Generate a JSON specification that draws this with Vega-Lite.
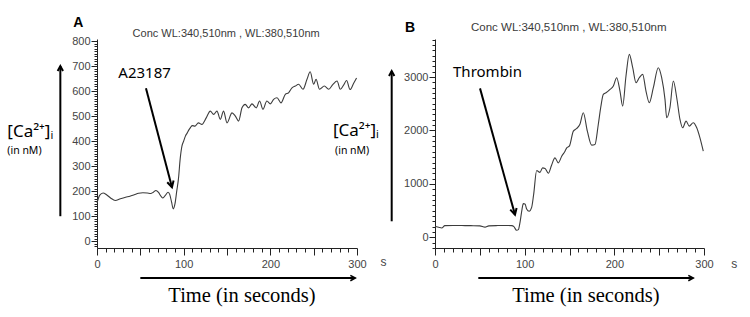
{
  "$schema": "https://vega.github.io/schema/vega-lite/v6.json",
  "padding": {"left": 7, "top": 15, "right": 5, "bottom": 5},
  "background": "white",
  "bounds": "flush",
  "spacing": 78,
  "config": {
    "view": {"stroke": null},
    "font": "Liberation Sans"
  },
  "datasets": {
    "trace_a": [
      {"t": 0, "ca": 153}, {"t": 3, "ca": 183}, {"t": 7, "ca": 193}, {"t": 11, "ca": 186}, {"t": 16, "ca": 172},
      {"t": 21, "ca": 163}, {"t": 27, "ca": 170}, {"t": 33, "ca": 176}, {"t": 38, "ca": 180}, {"t": 43, "ca": 186},
      {"t": 48, "ca": 192}, {"t": 53, "ca": 194}, {"t": 58, "ca": 193}, {"t": 62, "ca": 191}, {"t": 65, "ca": 196},
      {"t": 68, "ca": 203}, {"t": 71, "ca": 195}, {"t": 74, "ca": 179}, {"t": 76, "ca": 173}, {"t": 79, "ca": 184},
      {"t": 82, "ca": 196}, {"t": 84, "ca": 186}, {"t": 86, "ca": 157}, {"t": 88, "ca": 129}, {"t": 90, "ca": 150},
      {"t": 92, "ca": 200}, {"t": 94, "ca": 250}, {"t": 96, "ca": 330}, {"t": 98, "ca": 380}, {"t": 100, "ca": 400},
      {"t": 102, "ca": 420}, {"t": 104, "ca": 432}, {"t": 106, "ca": 445}, {"t": 108, "ca": 455}, {"t": 110, "ca": 462},
      {"t": 113, "ca": 460}, {"t": 117, "ca": 473}, {"t": 121, "ca": 467}, {"t": 126, "ca": 493}, {"t": 130.7, "ca": 520},
      {"t": 134.6, "ca": 507}, {"t": 138.4, "ca": 520}, {"t": 142.3, "ca": 487}, {"t": 146, "ca": 520}, {"t": 150, "ca": 473},
      {"t": 155.8, "ca": 513}, {"t": 159.6, "ca": 500}, {"t": 163.4, "ca": 480}, {"t": 167.3, "ca": 533}, {"t": 171, "ca": 547},
      {"t": 175, "ca": 533}, {"t": 178.8, "ca": 549}, {"t": 183.8, "ca": 533}, {"t": 187.6, "ca": 560}, {"t": 191.5, "ca": 527},
      {"t": 196, "ca": 560}, {"t": 200, "ca": 549}, {"t": 203.8, "ca": 567}, {"t": 207.7, "ca": 573}, {"t": 212.3, "ca": 553},
      {"t": 217.3, "ca": 587}, {"t": 221, "ca": 593}, {"t": 225, "ca": 613}, {"t": 228.8, "ca": 620}, {"t": 232.6, "ca": 627},
      {"t": 237.7, "ca": 607}, {"t": 242.3, "ca": 647}, {"t": 246, "ca": 677}, {"t": 250, "ca": 627}, {"t": 252.7, "ca": 647},
      {"t": 256.8, "ca": 607}, {"t": 262.3, "ca": 620}, {"t": 267.3, "ca": 607}, {"t": 272.3, "ca": 627}, {"t": 277, "ca": 640},
      {"t": 280.7, "ca": 607}, {"t": 284.5, "ca": 624}, {"t": 288, "ca": 642}, {"t": 292, "ca": 606}, {"t": 296, "ca": 630},
      {"t": 299.5, "ca": 652}
    ],
    "trace_b": [
      {"t": 0, "ca": 206}, {"t": 4, "ca": 190}, {"t": 7.5, "ca": 175}, {"t": 11, "ca": 219}, {"t": 20, "ca": 222},
      {"t": 30, "ca": 220}, {"t": 40, "ca": 218}, {"t": 50, "ca": 215}, {"t": 55.8, "ca": 190}, {"t": 60, "ca": 215},
      {"t": 70, "ca": 220}, {"t": 80, "ca": 222}, {"t": 85.5, "ca": 219}, {"t": 88, "ca": 200}, {"t": 91, "ca": 131},
      {"t": 93, "ca": 144}, {"t": 95, "ca": 300}, {"t": 97, "ca": 520}, {"t": 98.5, "ca": 630}, {"t": 100.4, "ca": 625},
      {"t": 102.2, "ca": 530}, {"t": 105, "ca": 487}, {"t": 107.8, "ca": 560}, {"t": 110, "ca": 800}, {"t": 113.4, "ca": 1250},
      {"t": 117, "ca": 1215}, {"t": 120, "ca": 1300}, {"t": 122.7, "ca": 1290}, {"t": 126.4, "ca": 1200}, {"t": 130, "ca": 1350},
      {"t": 133.8, "ca": 1487}, {"t": 137.5, "ca": 1394}, {"t": 141.3, "ca": 1519}, {"t": 145, "ca": 1612}, {"t": 146.9, "ca": 1675},
      {"t": 149.8, "ca": 1706}, {"t": 154.3, "ca": 1987}, {"t": 158, "ca": 2037}, {"t": 161.5, "ca": 2110}, {"t": 165.4, "ca": 2331},
      {"t": 169.9, "ca": 1987}, {"t": 174.7, "ca": 1725}, {"t": 178.4, "ca": 1737}, {"t": 182.1, "ca": 2112}, {"t": 185, "ca": 2450},
      {"t": 187.7, "ca": 2675}, {"t": 190.7, "ca": 2706}, {"t": 195.2, "ca": 2769}, {"t": 198.9, "ca": 2831}, {"t": 202.6, "ca": 2987},
      {"t": 206.3, "ca": 2737}, {"t": 209.3, "ca": 2456}, {"t": 213, "ca": 3019}, {"t": 216.7, "ca": 3425}, {"t": 220.5, "ca": 3175},
      {"t": 224.2, "ca": 2894}, {"t": 227.8, "ca": 2987}, {"t": 231.6, "ca": 3050}, {"t": 235.3, "ca": 2737}, {"t": 239, "ca": 2519},
      {"t": 243.5, "ca": 2800}, {"t": 249, "ca": 3175}, {"t": 252.8, "ca": 2987}, {"t": 256.5, "ca": 2581}, {"t": 258.4, "ca": 2237},
      {"t": 262, "ca": 2425}, {"t": 265.8, "ca": 2925}, {"t": 269.6, "ca": 2612}, {"t": 273.2, "ca": 2206}, {"t": 276.2, "ca": 2050},
      {"t": 280, "ca": 2175}, {"t": 283.6, "ca": 2081}, {"t": 288, "ca": 2144}, {"t": 291.9, "ca": 2050}, {"t": 295.5, "ca": 1862},
      {"t": 299.2, "ca": 1612}
    ]
  },
  "hconcat": [
    {
      "width": 260,
      "height": 209,
      "encoding": {
        "x": {
          "field": "t", "type": "quantitative",
          "scale": {"domain": [0, 300], "nice": false, "zero": false},
          "axis": {
            "title": null, "grid": false,
            "values": [0,10,20,30,40,50,60,70,80,90,100,110,120,130,140,150,160,170,180,190,200,210,220,230,240,250,260,270,280,290,300],
            "labelExpr": "datum.value % 100 === 0 ? datum.label : ''",
            "tickSize": {"condition": {"test": "datum.value % 50 === 0", "value": 7}, "value": 4},
            "labelFont": "Liberation Sans", "labelFontSize": 11, "labelColor": "#444",
            "labelPadding": 3, "labelOverlap": false, "labelFlush": false, "labelBound": false,
            "domainColor": "#222", "tickColor": "#222"
          }
        },
        "y": {
          "field": "ca", "type": "quantitative",
          "scale": {"domain": [-27, 808], "nice": false, "zero": false},
          "axis": {
            "title": null, "grid": false,
            "values": [-20,-10,0,10,20,30,40,50,60,70,80,90,100,110,120,130,140,150,160,170,180,190,200,210,220,230,240,250,260,270,280,290,300,310,320,330,340,350,360,370,380,390,400,410,420,430,440,450,460,470,480,490,500,510,520,530,540,550,560,570,580,590,600,610,620,630,640,650,660,670,680,690,700,710,720,730,740,750,760,770,780,790,800],
            "labelExpr": "datum.value % 100 === 0 ? datum.label : ''",
            "tickSize": {"condition": {"test": "datum.value % 100 === 0", "value": 6}, "value": 3},
            "labelFont": "Liberation Sans", "labelFontSize": 11, "labelColor": "#444",
            "labelPadding": 1, "labelOverlap": false, "labelFlush": false, "labelBound": false,
            "domainColor": "#222", "tickColor": "#222"
          }
        }
      },
      "layer": [
        {
          "data": {"values": [{}]},
          "mark": {"type": "rule", "stroke": "#b5b5b5", "strokeDash": [3, 3], "strokeWidth": 1},
          "encoding": {"x": {"datum": 0}, "x2": {"datum": 300}, "y": {"datum": 0}}
        },
        {
          "data": {"name": "trace_a"},
          "mark": {"type": "line", "stroke": "#3c3c3c", "strokeWidth": 1.1, "interpolate": "monotone"}
        },
        {
          "data": {"values": [
            {"t": 56.5, "ca": 611, "t2": 86.5, "ca2": 216},
            {"t": -42.3, "ca": 100, "t2": -42.3, "ca2": 700},
            {"t": 50, "ca": -147, "t2": 298, "ca2": -147}
          ]},
          "mark": {"type": "rule", "stroke": "black", "strokeWidth": 2},
          "encoding": {"x2": {"field": "t2"}, "y2": {"field": "ca2"}}
        },
        {
          "data": {"values": [{"t": 86.5, "ca": 216}]},
          "mark": {"type": "point", "shape": "M-0.6,-1.1L0,0L0.6,-1.1", "filled": false, "stroke": "black", "strokeWidth": 2, "size": 120, "opacity": 1, "angle": -15}
        },
        {
          "data": {"values": [{"t": -42.3, "ca": 700}]},
          "mark": {"type": "point", "shape": "M-0.6,-1.1L0,0L0.6,-1.1", "filled": false, "stroke": "black", "strokeWidth": 2, "size": 80, "opacity": 1, "angle": 180}
        },
        {
          "data": {"values": [{"t": 298, "ca": -147}]},
          "mark": {"type": "point", "shape": "M-0.6,-1.1L0,0L0.6,-1.1", "filled": false, "stroke": "black", "strokeWidth": 1.6, "size": 80, "opacity": 1, "angle": -90}
        },
        {
          "data": {"values": [{"t": 149, "ca": 828, "label": "Conc WL:340,510nm , WL:380,510nm"}]},
          "mark": {"type": "text", "font": "Liberation Sans", "fontSize": 11, "align": "center", "baseline": "middle", "color": "#3a3a3a"},
          "encoding": {"text": {"field": "label"}}
        },
        {
          "data": {"values": [{"t": 24.6, "ca": 673, "label": "A23187"}]},
          "mark": {"type": "text", "font": "Noto Sans", "fontSize": 15, "align": "left", "baseline": "middle", "color": "black"},
          "encoding": {"text": {"field": "label"}}
        },
        {
          "data": {"values": [{"t": -103.5, "ca": 436, "label": "[Ca²⁺]ᵢ"}]},
          "mark": {"type": "text", "font": "Noto Sans", "fontSize": 17, "align": "left", "baseline": "middle", "color": "black"},
          "encoding": {"text": {"field": "label"}}
        },
        {
          "data": {"values": [{"t": -103.5, "ca": 360, "label": "(in nM)"}]},
          "mark": {"type": "text", "font": "Noto Sans", "fontSize": 10.5, "align": "left", "baseline": "middle", "color": "black"},
          "encoding": {"text": {"field": "label"}}
        },
        {
          "data": {"values": [{"t": -21.6, "ca": 872, "label": "A"}]},
          "mark": {"type": "text", "font": "Liberation Sans", "fontSize": 14, "fontWeight": "bold", "align": "center", "baseline": "middle", "color": "black"},
          "encoding": {"text": {"field": "label"}}
        },
        {
          "data": {"values": [{"t": 167.3, "ca": -220, "label": "Time (in seconds)"}]},
          "mark": {"type": "text", "font": "Liberation Serif", "fontSize": 20.5, "align": "center", "baseline": "middle", "color": "black"},
          "encoding": {"text": {"field": "label"}}
        },
        {
          "data": {"values": [{"t": 330.7, "ca": -84, "label": "s"}]},
          "mark": {"type": "text", "font": "Liberation Sans", "fontSize": 12, "align": "center", "baseline": "middle", "color": "#444"},
          "encoding": {"text": {"field": "label"}}
        }
      ]
    },
    {
      "width": 269,
      "height": 209,
      "encoding": {
        "x": {
          "field": "t", "type": "quantitative",
          "scale": {"domain": [0, 300], "nice": false, "zero": false},
          "axis": {
            "title": null, "grid": false,
            "values": [0,10,20,30,40,50,60,70,80,90,100,110,120,130,140,150,160,170,180,190,200,210,220,230,240,250,260,270,280,290,300],
            "labelExpr": "datum.value % 100 === 0 ? datum.label : ''",
            "tickSize": {"condition": {"test": "datum.value % 50 === 0", "value": 7}, "value": 4},
            "labelFont": "Liberation Sans", "labelFontSize": 11, "labelColor": "#444",
            "labelPadding": 3, "labelOverlap": false, "labelFlush": false, "labelBound": false,
            "domainColor": "#222", "tickColor": "#222"
          }
        },
        "y": {
          "field": "ca", "type": "quantitative",
          "scale": {"domain": [-200, 3712], "nice": false, "zero": false},
          "axis": {
            "title": null, "grid": false, "format": "d",
            "values": [-200,-100,0,100,200,300,400,500,600,700,800,900,1000,1100,1200,1300,1400,1500,1600,1700,1800,1900,2000,2100,2200,2300,2400,2500,2600,2700,2800,2900,3000,3100,3200,3300,3400,3500,3600,3700],
            "labelExpr": "datum.value % 1000 === 0 ? datum.label : ''",
            "tickSize": {"condition": {"test": "datum.value % 1000 === 0", "value": 6}, "value": 3},
            "labelFont": "Liberation Sans", "labelFontSize": 11, "labelColor": "#444",
            "labelPadding": 1, "labelOverlap": false, "labelFlush": false, "labelBound": false,
            "domainColor": "#222", "tickColor": "#222"
          }
        }
      },
      "layer": [
        {
          "data": {"values": [{}]},
          "mark": {"type": "rule", "stroke": "#b5b5b5", "strokeDash": [3, 3], "strokeWidth": 1},
          "encoding": {"x": {"datum": 0}, "x2": {"datum": 300}, "y": {"datum": 0}}
        },
        {
          "data": {"name": "trace_b"},
          "mark": {"type": "line", "stroke": "#3c3c3c", "strokeWidth": 1.1, "interpolate": "monotone"}
        },
        {
          "data": {"values": [
            {"t": 50.2, "ca": 2788, "t2": 89.2, "ca2": 425},
            {"t": -48.3, "ca": 300, "t2": -48.3, "ca2": 3112},
            {"t": 48.3, "ca": -763, "t2": 288, "ca2": -763}
          ]},
          "mark": {"type": "rule", "stroke": "black", "strokeWidth": 2},
          "encoding": {"x2": {"field": "t2"}, "y2": {"field": "ca2"}}
        },
        {
          "data": {"values": [{"t": 89.2, "ca": 425}]},
          "mark": {"type": "point", "shape": "M-0.6,-1.1L0,0L0.6,-1.1", "filled": false, "stroke": "black", "strokeWidth": 2, "size": 120, "opacity": 1, "angle": -15}
        },
        {
          "data": {"values": [{"t": -48.3, "ca": 3112}]},
          "mark": {"type": "point", "shape": "M-0.6,-1.1L0,0L0.6,-1.1", "filled": false, "stroke": "black", "strokeWidth": 2, "size": 80, "opacity": 1, "angle": 180}
        },
        {
          "data": {"values": [{"t": 288, "ca": -763}]},
          "mark": {"type": "point", "shape": "M-0.6,-1.1L0,0L0.6,-1.1", "filled": false, "stroke": "black", "strokeWidth": 1.6, "size": 80, "opacity": 1, "angle": -90}
        },
        {
          "data": {"values": [{"t": 149.2, "ca": 3919, "label": "Conc WL:340,510nm , WL:380,510nm"}]},
          "mark": {"type": "text", "font": "Liberation Sans", "fontSize": 11.5, "align": "center", "baseline": "middle", "color": "#3a3a3a"},
          "encoding": {"text": {"field": "label"}}
        },
        {
          "data": {"values": [{"t": 20.1, "ca": 3094, "label": "Thrombin"}]},
          "mark": {"type": "text", "font": "Noto Sans", "fontSize": 15, "align": "left", "baseline": "middle", "color": "black"},
          "encoding": {"text": {"field": "label"}}
        },
        {
          "data": {"values": [{"t": -113.8, "ca": 1988, "label": "[Ca²⁺]ᵢ"}]},
          "mark": {"type": "text", "font": "Noto Sans", "fontSize": 17, "align": "left", "baseline": "middle", "color": "black"},
          "encoding": {"text": {"field": "label"}}
        },
        {
          "data": {"values": [{"t": -111.5, "ca": 1612, "label": "(in nM)"}]},
          "mark": {"type": "text", "font": "Noto Sans", "fontSize": 10.5, "align": "left", "baseline": "middle", "color": "black"},
          "encoding": {"text": {"field": "label"}}
        },
        {
          "data": {"values": [{"t": -27.9, "ca": 3919, "label": "B"}]},
          "mark": {"type": "text", "font": "Liberation Sans", "fontSize": 14, "fontWeight": "bold", "align": "center", "baseline": "middle", "color": "black"},
          "encoding": {"text": {"field": "label"}}
        },
        {
          "data": {"values": [{"t": 168.2, "ca": -1106, "label": "Time (in seconds)"}]},
          "mark": {"type": "text", "font": "Liberation Serif", "fontSize": 20.5, "align": "center", "baseline": "middle", "color": "black"},
          "encoding": {"text": {"field": "label"}}
        },
        {
          "data": {"values": [{"t": 333.8, "ca": -494, "label": "s"}]},
          "mark": {"type": "text", "font": "Liberation Sans", "fontSize": 12, "align": "center", "baseline": "middle", "color": "#444"},
          "encoding": {"text": {"field": "label"}}
        }
      ]
    }
  ]
}
